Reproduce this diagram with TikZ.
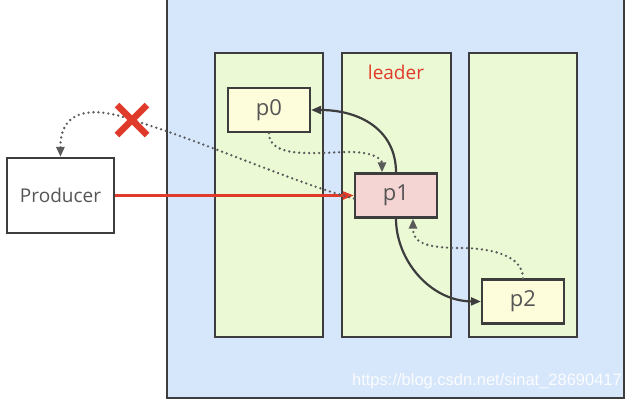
\documentclass[tikz,border=0pt]{standalone}
\usepackage{fontspec}
\setmainfont{Open Sans}
\newfontfamily\wmfont{Liberation Sans}
\usetikzlibrary{arrows.meta}
\definecolor{outerblue}{HTML}{D6E6FB}
\definecolor{colgreen}{HTML}{EBF9D5}
\definecolor{boxyellow}{HTML}{FDFCDB}
\definecolor{boxpink}{HTML}{F5D4D4}
\definecolor{edgegray}{HTML}{3D3D3D}
\definecolor{txtgray}{HTML}{555555}
\definecolor{kred}{HTML}{E03A2A}
\tikzset{
  frame/.style={draw=edgegray, line width=2.2pt},
  column/.style={frame, fill=colgreen},
  part/.style={frame, fill=boxyellow, minimum width=82pt, minimum height=44pt, inner sep=0pt,
    text=txtgray, font=\fontsize{22}{26}\selectfont},
  leaderpart/.style={part, fill=boxpink},
  prodbox/.style={frame, fill=white, minimum width=107pt, minimum height=75pt, inner sep=0pt,
    text=txtgray, font=\fontsize{19}{22}\selectfont},
  solidarrow/.style={draw=edgegray, line width=2.2pt, -{Triangle[length=10pt,width=8pt]}},
  dotarrow/.style={draw=edgegray!85, line width=2.6pt, dash pattern=on 0pt off 5pt, line cap=round,
    -{Triangle[length=10pt,width=8pt,line cap=butt]}},
  redarrow/.style={draw=kred, line width=2.2pt, -{Triangle[length=11pt,width=8pt]}},
}
\begin{document}
\begin{tikzpicture}[x=1pt,y=-1pt]
\useasboundingbox (0,0) rectangle (627,402);
\clip (0,0) rectangle (627,402);
% outer broker box
\draw[frame, fill=outerblue] (167,-10) rectangle (624,398);
% columns
\draw[column] (215,53) rectangle (323,337);
\draw[column] (342,53) rectangle (451,337);
\draw[column] (469,53) rectangle (577,337);
\node[text=kred, font=\fontsize{19}{22}\selectfont] (leader) at (396,72) {leader};
% partitions
\node[part] (p0) at (269,110) {p0};
\node[leaderpart] (p1) at (396,195.5) {p1};
\node[part] (p2) at (523,301.5) {p2};
\node[prodbox] (prod) at (60.5,195.5) {Producer};
% watermark
\node[text=white, opacity=0.9, font=\fontsize{16.5}{18}\wmfont] (wm) at (487,381) {https://blog.csdn.net/sinat\_28690417};
% connectors
\draw[redarrow] (prod.east) -- (p1.west);
\coordinate (pw) at ([yshift=-3pt]p1.west);
\draw[dotarrow] (pw) .. controls (300,185) and (200,140) .. (132,120)
  .. controls (100,108) and (60,105) .. (prod.north);
\draw[solidarrow] (p1.north) .. controls (396,130) and (360,110) .. (p0.east);
\draw[solidarrow] (p1.south) .. controls (396,260) and (430,301) .. (p2.west);
\coordinate (p1t) at ([xshift=-14pt]p1.north);
\draw[dotarrow] (p0.south) .. controls (269,160) and (320,152) .. (350,152)
  .. controls (375,152) and (382,160) .. (p1t);
\coordinate (p1b) at ([xshift=17pt]p1.south);
\draw[dotarrow] (p2.north) .. controls (523,255) and (490,248) .. (460,248)
  .. controls (420,248) and (413,240) .. (p1b);
% red cross
\node[inner sep=0pt, minimum size=0pt] (xmark) at (132,120) {};
\draw[kred, line width=6.5pt] ([shift={(-15,-15)}]xmark.center) -- ([shift={(15,15)}]xmark.center)
  ([shift={(15,-15)}]xmark.center) -- ([shift={(-15,15)}]xmark.center);
\end{tikzpicture}
\end{document}
